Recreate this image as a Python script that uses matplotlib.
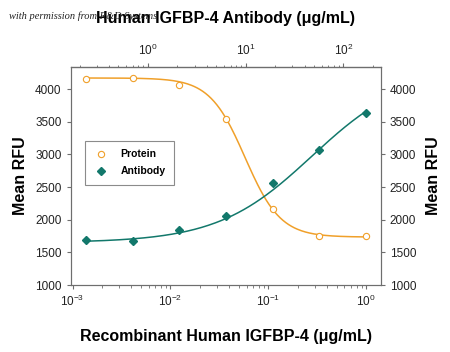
import numpy as np
import matplotlib
matplotlib.use("Agg")
import matplotlib.pyplot as plt

# === DATA ===
conc = [0.00137, 0.00412, 0.0123, 0.037, 0.111, 0.333, 1.0]   # bottom axis, ug/mL
protein = [4155, 4175, 4058, 3537, 2159, 1755, 1750]
antibody = [1684, 1674, 1842, 2057, 2567, 3063, 3629]

# 4PL fit parameters estimated from the drawn curves: low, high, EC50, hill
protein_fit = [1735, 4170, 0.058, 2.4]     # decreasing
antibody_fit = [1650, 4300, 0.28, 0.9]     # increasing

# top axis (antibody conc) relative to bottom axis
top_factor = 170.0

plt.rcParams['font.family'] = ['Liberation Sans', 'DejaVu Sans']
plt.rcParams['mathtext.fontset'] = 'custom'
plt.rcParams['mathtext.rm'] = 'Liberation Sans'

orange = '#F0A02A'
teal = '#12786B'
gray = '#6E6E6E'


def four_pl(x, p, rising=True):
    lo, hi, ec, h = p
    r = (ec / x) ** h if rising else (x / ec) ** h
    return lo + (hi - lo) / (1 + r)


fig = plt.figure(figsize=(4.5, 3.52), dpi=100)
ax = fig.add_axes([0.157, 0.190, 0.689, 0.620])

xs = np.logspace(np.log10(conc[0]), 0, 200)
ax.plot(xs, four_pl(xs, protein_fit, rising=False), color=orange, lw=1.1)
ax.plot(xs, four_pl(xs, antibody_fit), color=teal, lw=1.1)
ax.plot(conc, protein, 'o', mfc='white', mec=orange, ms=4.5, mew=0.8, label='Protein', ls='none')
ax.plot(conc, antibody, 'D', color=teal, ms=4, label='Antibody', ls='none')

ax.set_xscale('log')
ax.set_xlim(10 ** -3.02, 10 ** 0.15)
ax.set_ylim(1000, 4340)
ax.set_yticks(range(1000, 4001, 500))

for s in ax.spines.values():
    s.set_color(gray)
    s.set_linewidth(0.8)

ax.tick_params(which='both', direction='out', colors=gray, labelcolor='#222222', labelsize=8.5)
ax.tick_params(which='major', length=3)
ax.tick_params(which='minor', length=1.8)

ax.set_ylabel('Mean RFU', fontsize=11.5, fontweight='bold', labelpad=5)
ax.set_xlabel('Recombinant Human IGFBP-4 (\u03bcg/mL)', fontsize=11.5, fontweight='bold', labelpad=14)

# right axis
ay = ax.twinx()
ay.set_ylim(ax.get_ylim())
ay.set_yticks(range(1000, 4001, 500))
ay.tick_params(direction='out', colors=gray, labelcolor='#222222', labelsize=8.5, length=3)
ay.set_ylabel('Mean RFU', fontsize=11.5, fontweight='bold', labelpad=7)
for s in ay.spines.values():
    s.set_color(gray)
    s.set_linewidth(0.8)

# top axis
at = ax.secondary_xaxis('top', functions=(lambda x: x * top_factor, lambda x: x / top_factor))
at.set_xscale('log')
at.tick_params(which='both', direction='out', colors=gray, labelcolor='#222222', labelsize=8.5)
at.tick_params(which='major', length=3)
at.tick_params(which='minor', length=1.8)
at.set_xlabel('Human IGFBP-4 Antibody (\u03bcg/mL)', fontsize=11.5, fontweight='bold', labelpad=14)

leg = ax.legend(loc='upper left', bbox_to_anchor=(0.03, 0.685), fontsize=7.5, frameon=True,
                fancybox=False, edgecolor=gray, handletextpad=1.1, borderpad=0.8,
                labelspacing=0.7, handlelength=1.5)
leg.get_frame().set_linewidth(0.8)
for t in leg.get_texts():
    t.set_fontweight('bold')

fig.text(0.02, 0.955, 'with permission from R&D Systems', fontsize=7.5, style='italic',
         family='Liberation Serif', color='#222222', va='center', zorder=0)

fig.savefig('out.png', dpi=100)
